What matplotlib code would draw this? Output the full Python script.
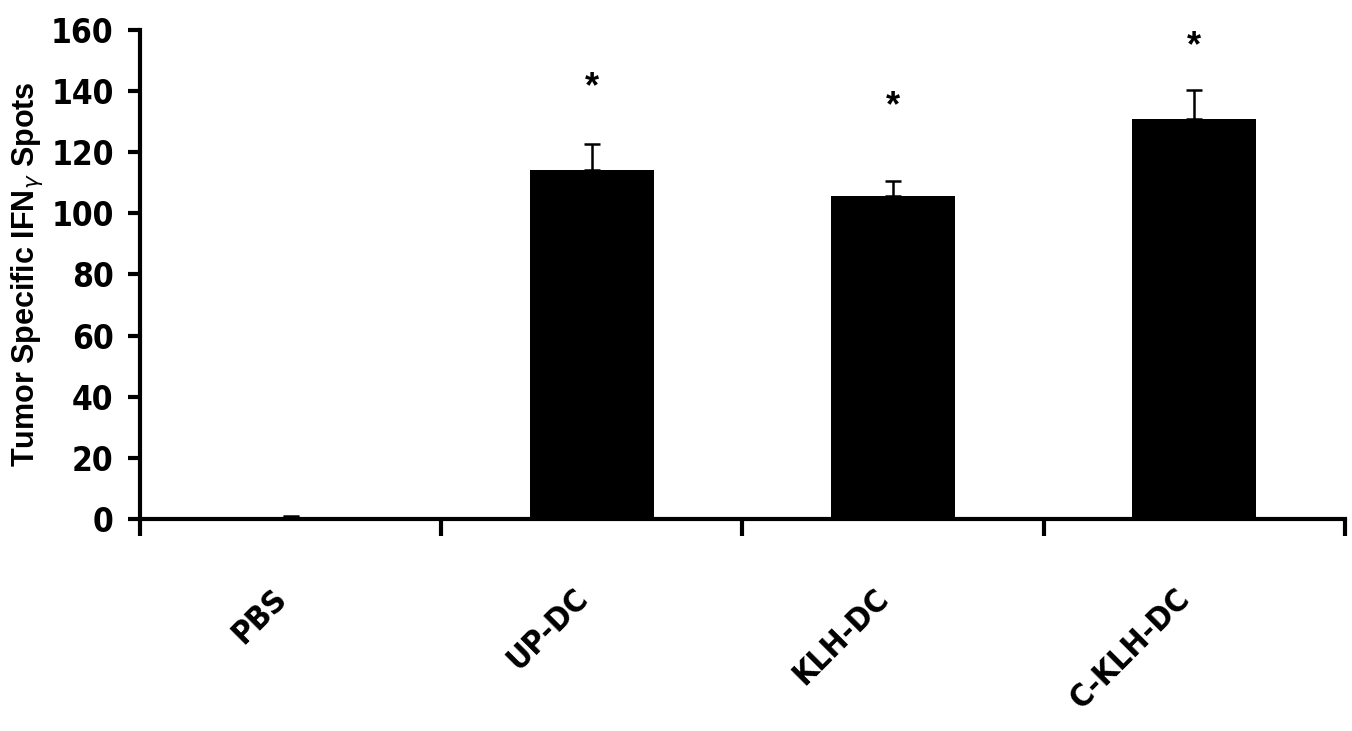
import numpy as np
import matplotlib.pyplot as plt

# Data
groups = ["PBS", "UP-DC", "KLH-DC", "C-KLH-DC"]
spots = [0.5, 114.2, 105.6, 131.0]
sem = [0.6, 8.6, 5.0, 9.4]
star_y = [None, 141, 135, 154.5]

yticks = [0, 20, 40, 60, 80, 100, 120, 140, 160]

fig = plt.figure(figsize=(13.52, 7.31), dpi=100)
ax = fig.add_axes([0.1036, 0.290, 0.891, 0.669])

x = np.arange(len(groups))
lower = np.zeros(len(groups))
ax.bar(x, spots, width=0.41, color="black", zorder=2)
ax.errorbar(x, spots, yerr=[lower, sem], fmt="none", ecolor="black",
            elinewidth=1.8, capsize=5.5, capthick=1.8, zorder=1)

for xi, sy in zip(x, star_y):
    if sy is not None:
        ax.text(xi, sy, "*", ha="center", va="center", fontsize=26,
                fontweight="bold", family="Liberation Sans")

ax.set_xlim(-0.5, len(groups) - 0.5)
ax.set_ylim(0, 160)
ax.set_yticks(yticks)
ax.set_yticklabels([str(t) for t in yticks], fontsize=24, fontweight="bold",
                   family="DejaVu Sans", fontstretch="condensed")

# category boundaries as x ticks
ax.set_xticks(np.arange(len(groups) + 1) - 0.5)
ax.set_xticklabels([])
for xi, name in zip(x, groups):
    ax.annotate(name, xy=(xi, 0), xycoords=("data", "axes fraction"),
                xytext=(-14, -46), textcoords="offset points",
                ha="right", va="top", rotation=45, rotation_mode="anchor",
                fontsize=23, fontweight="bold",
                family="DejaVu Sans", fontstretch="condensed")

ax.tick_params(axis="y", direction="out", length=9, width=3, pad=10)
ax.tick_params(axis="x", direction="out", length=12, width=3)

for side in ["top", "right"]:
    ax.spines[side].set_visible(False)
for side in ["left", "bottom"]:
    ax.spines[side].set_linewidth(3)

ax.set_ylabel(r"Tumor Specific IFN$_{\gamma}$ Spots", fontsize=22,
              fontweight="bold", family="Liberation Sans")
ax.yaxis.set_label_coords(-0.079, 0.5)

fig.savefig("out.png", dpi=100)
